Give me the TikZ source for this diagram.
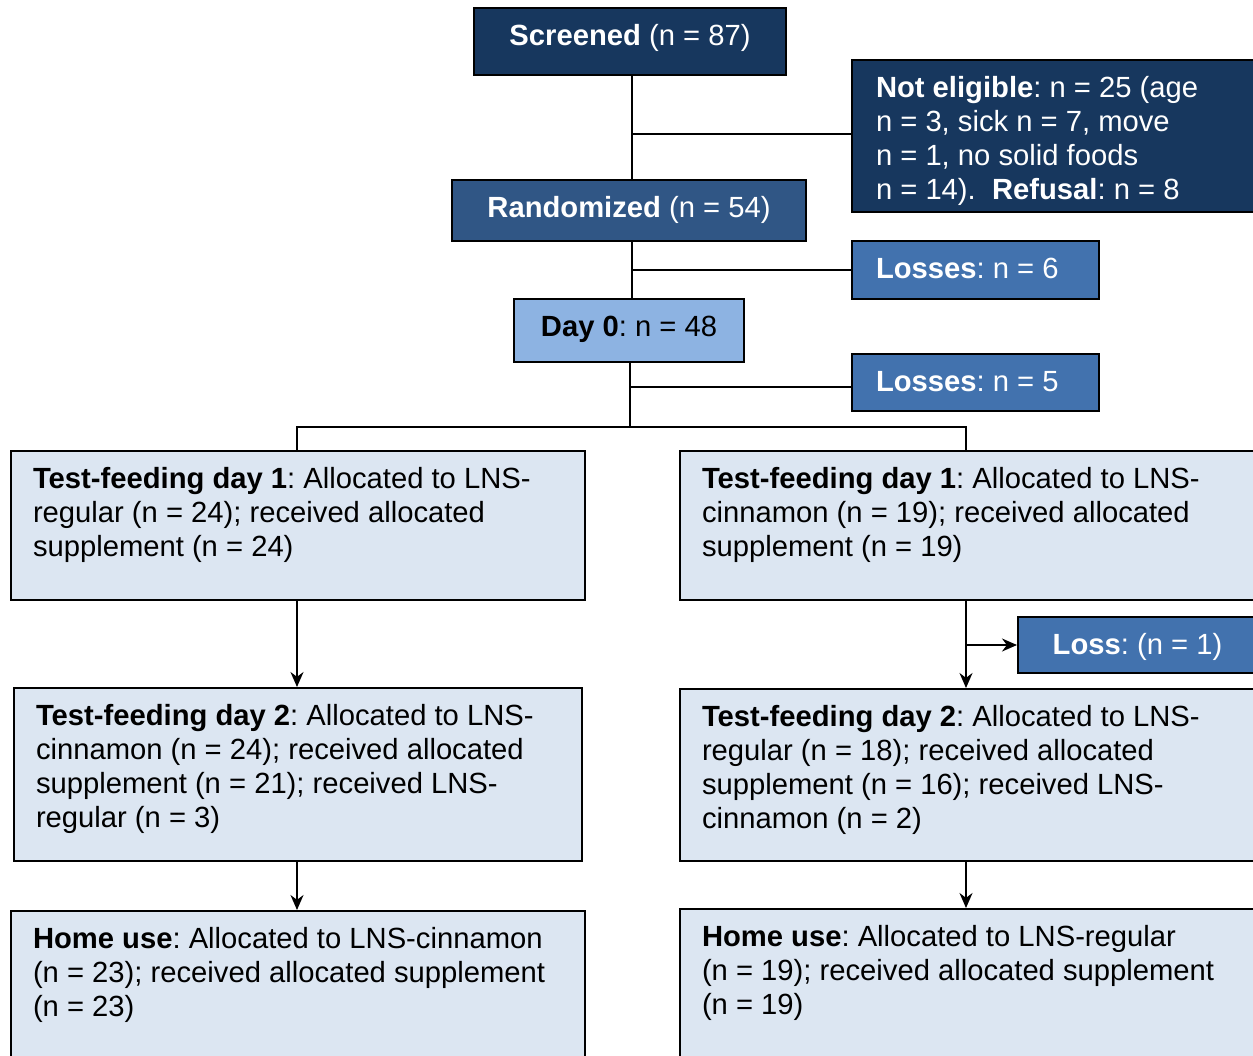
\documentclass[tikz,border=0pt]{standalone}
\usepackage{fontspec}
\setmainfont{Liberation Sans}
\usetikzlibrary{arrows.meta}
\frenchspacing
\definecolor{navyblue}{RGB}{23,55,94}
\definecolor{midblue}{RGB}{48,86,133}
\definecolor{lossblue}{RGB}{66,114,174}
\definecolor{dayblue}{RGB}{141,179,226}
\definecolor{paleblue}{RGB}{220,230,242}
\newcommand{\leftcell}[3]{\parbox[c][#2][t]{#1}{\raggedright\strut #3}}
\newcommand{\midcell}[3]{\parbox[c][#2][t]{#1}{\centering\strut #3}}
\begin{document}
\begin{tikzpicture}[x=0.5pt,y=-0.5pt,font=\fontsize{14.6}{17}\selectfont,
    stagebox/.style={draw=black,line width=1pt,anchor=north west,inner xsep=11pt,inner ysep=7pt},
    darkbox/.style={stagebox,fill=navyblue,text=white},
    lossbox/.style={stagebox,fill=lossblue,text=white,inner xsep=12pt},
    palebox/.style={stagebox,fill=paleblue},
    link/.style={line width=0.9pt},
    arr/.style={link,-{Stealth[length=7.5pt,width=6.5pt]}}]
    \useasboundingbox (0,0) rectangle (1253,1055);
    \clip (0,0) rectangle (1253,1055);
    \node[darkbox] (scr) at (473,7) {\midcell{134pt}{19.5pt}{\textbf{Screened} (n = 87)}};
    \node[darkbox,inner xsep=12pt] (nel) at (851,59) {\leftcell{181.5pt}{62pt}{\textbf{Not eligible}: n = 25 (age\\n = 3, sick n = 7, move\\n = 1, no solid foods\\n = 14).~ \textbf{Refusal}: n = 8}};
    \node[stagebox,fill=midblue,text=white] (rnd) at (451,179) {\midcell{155pt}{16.5pt}{\textbf{Randomized} (n = 54)}};
    \node[lossbox] (ls6) at (851,240) {\leftcell{99.5pt}{15pt}{\textbf{Losses}: n = 6}};
    \node[stagebox,fill=dayblue] (d0) at (513,298) {\midcell{93pt}{17.5pt}{\textbf{Day 0}: n = 48}};
    \node[lossbox] (ls5) at (851,353) {\leftcell{99.5pt}{14.5pt}{\textbf{Losses}: n = 5}};
    \node[palebox] (t1a) at (10,450) {\leftcell{265pt}{60.5pt}{\textbf{Test-feeding day 1}: Allocated to LNS-\\regular (n = 24); received allocated\\supplement (n = 24)}};
    \node[palebox] (t1b) at (679,450) {\leftcell{269.5pt}{60.5pt}{\textbf{Test-feeding day 1}: Allocated to LNS-\\cinnamon (n = 19); received allocated\\supplement (n = 19)}};
    \node[lossbox,inner xsep=11pt] (ls1) at (1017,616) {\midcell{97.5pt}{14pt}{\textbf{Loss}: (n = 1)}};
    \node[palebox] (t2a) at (13,687) {\leftcell{262pt}{72.5pt}{\textbf{Test-feeding day 2}: Allocated to LNS-\\cinnamon (n = 24); received allocated\\supplement (n = 21); received LNS-\\regular (n = 3)}};
    \node[palebox] (t2b) at (679,688) {\leftcell{269.5pt}{72pt}{\textbf{Test-feeding day 2}: Allocated to LNS-\\regular (n = 18); received allocated\\supplement (n = 16); received LNS-\\cinnamon (n = 2)}};
    \node[palebox] (hma) at (10,910) {\leftcell{265pt}{66pt}{\textbf{Home use}: Allocated to LNS-cinnamon\\(n = 23); received allocated supplement\\(n = 23)}};
    \node[palebox] (hmb) at (679,908) {\leftcell{269.5pt}{67pt}{\textbf{Home use}: Allocated to LNS-regular\\(n = 19); received allocated supplement\\(n = 19)}};
    \coordinate (b1) at (632,134);
    \coordinate (b2) at (632,270);
    \coordinate (b3) at (630,387);
    \coordinate (sp) at (630,427);
    \coordinate (sl) at (297,427);
    \coordinate (sr) at (966,427);
    \coordinate (b4) at (966,645);
    \draw[link] (scr.south -| b1) -- (rnd.north -| b1) (b1) -- (b1 -| nel.west);
    \draw[link] (rnd.south -| b2) -- (d0.north -| b2) (b2) -- (b2 -| ls6.west);
    \draw[link] (d0.south -| b3) -- (sp) (b3) -- (b3 -| ls5.west);
    \draw[link] (sl |- t1a.north) -- (sl) -- (sr) -- (sr |- t1b.north);
    \draw[arr] (t1a.south -| sl) -- (t2a.north -| sl);
    \draw[arr] (t2a.south -| sl) -- (hma.north -| sl);
    \draw[arr] (t1b.south -| sr) -- (t2b.north -| sr);
    \draw[arr] (b4) -- (b4 -| ls1.west);
    \draw[arr] (t2b.south -| sr) -- (hmb.north -| sr);
\end{tikzpicture}
\end{document}
